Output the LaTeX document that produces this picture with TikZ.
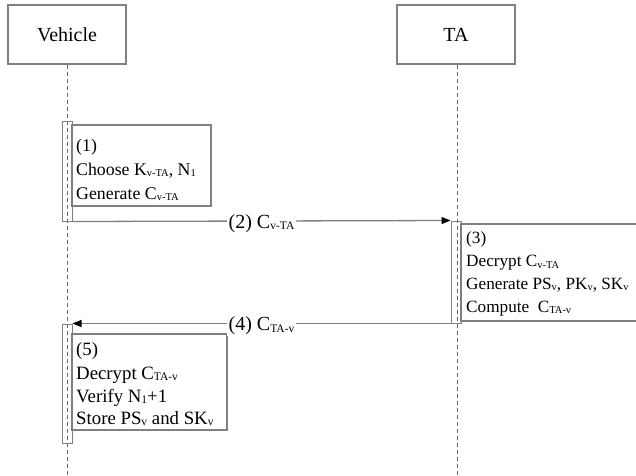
\documentclass[tikz,border=0pt]{standalone}
\usepackage{fontspec}
\setmainfont{Liberation Serif}
\usetikzlibrary{arrows.meta,calc}
\newcommand\sbs[1]{\raisebox{-1.5pt}{\fontsize{10.5}{11}\selectfont #1}}
\newcommand\sbb[1]{\raisebox{-1.7pt}{\fontsize{11.5}{12}\selectfont #1}}
\newcommand\sbl[1]{\raisebox{-1.8pt}{\fontsize{11.5}{12}\selectfont #1}}
\tikzset{
  actor/.style={draw=black!50, line width=1.3pt, minimum width=118pt, minimum height=59pt, inner sep=0pt, font=\fontsize{20}{24}\selectfont},
  lifeline/.style={draw=black!60, dash pattern=on 4pt off 3pt, line width=0.8pt},
  actbox/.style={draw=black!50, line width=1pt, minimum width=10pt, inner sep=0pt},
  stepbox/.style={draw=black!50, line width=1.2pt, inner sep=0pt},
  steptext/.style={anchor=base west, inner sep=0pt, font=\fontsize{17.8}{20}\selectfont},
  steptextc/.style={anchor=base west, inner sep=0pt, font=\fontsize{17.2}{20}\selectfont},
  steptextb/.style={anchor=base west, inner sep=0pt, font=\fontsize{18.8}{20}\selectfont},
  msg/.style={draw=black!50, line width=1.3pt, -{Triangle[length=9pt,width=7pt,color=black,fill=black]}},
  msglabel/.style={fill=white, inner sep=1.5pt, anchor=base, font=\fontsize{20}{22}\selectfont}
}
\begin{document}
\begin{tikzpicture}[x=1pt,y=-1pt]
\useasboundingbox (0,0) rectangle (636,475);
\node[actor] (veh) at (67,34.5) {Vehicle};
\node[actor] (ta) at (456,34.5) {TA};
\coordinate (vend) at (67,475);
\coordinate (tend) at (457,475);
\draw[lifeline] (veh.south) -- (vend);
\draw[lifeline] (ta.south -| tend) -- (tend);
% activations
\node[actbox, minimum height=100pt] (act1) at (67,171) {};
\node[actbox, minimum height=102pt] (act2) at (456,272) {};
\node[actbox, minimum height=119pt] (act3) at (67,383.5) {};
% step boxes
\draw[stepbox] (72,125) rectangle (211,206);
\node[steptext] (t1a) at (76,151) {(1)};
\node[steptext] (t1b) at (76,175) {Choose K\sbs{v-TA}, N\sbs{1}};
\node[steptext] (t1c) at (76,199) {Generate C\sbs{v-TA}};
\draw[stepbox] (461,224) rectangle (660,321);
\node[steptextc] (t3a) at (466,243) {(3)};
\node[steptextc] (t3b) at (466,266.5) {Decrypt C\sbs{v-TA}};
\node[steptextc] (t3c) at (466,289) {Generate PS\sbs{v}, PK\sbs{v}, SK\sbs{v}};
\node[steptextc] (t3d) at (466,312) {Compute~ C\sbs{TA-v}};
\draw[stepbox] (72,334) rectangle (227,430);
\node[steptextb] (t5a) at (76,355) {(5)};
\node[steptextb] (t5b) at (76,379) {Decrypt C\sbb{TA-v}};
\node[steptextb] (t5c) at (76,402) {Verify N\sbb{1}+1};
\node[steptextb] (t5d) at (76,424) {Store PS\sbb{v} and SK\sbb{v}};
% messages
\draw[msg] (act1.south east) -- (act2.north west);
\draw[msg] (act2.south west) -- (act3.north east);
\node[msglabel] (l2) at ($(act1.south east)!0.5!(act2.north west)+(0,7)$) {(2) C\sbl{v-TA}};
\node[msglabel] (l4) at ($(act2.south west)!0.5!(act3.north east)+(0,7)$) {(4) C\sbl{TA-v}};
\end{tikzpicture}
\end{document}
